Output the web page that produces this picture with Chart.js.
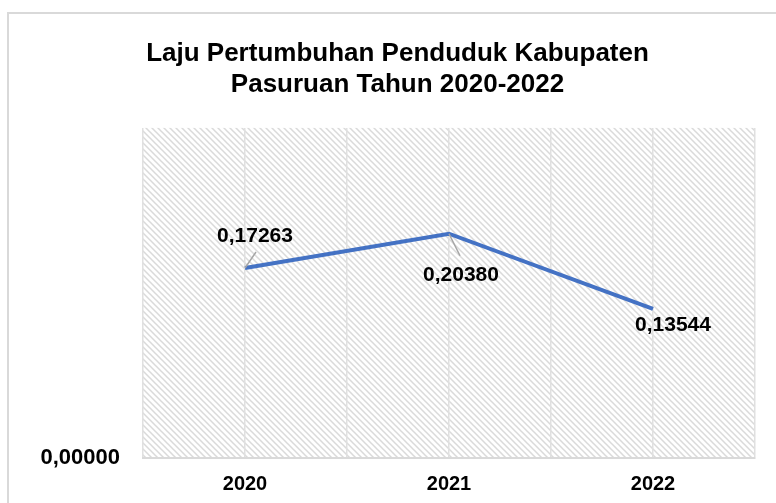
<!DOCTYPE html>
<html>
<head>
<meta charset="utf-8">
<script src="https://cdn.jsdelivr.net/npm/chart.js@4/dist/chart.umd.min.js"></script>
<style>
    html, body { margin: 0; padding: 0; background: #fff; }
    #wrap { width: 776px; height: 503px; }
</style>
</head>
<body>
<div id="wrap"><canvas id="growthChart" width="776" height="503"></canvas></div>
<script>
// data
const years = ['2020', '2021', '2022'];
const growthRate = [0.17263, 0.20380, 0.13544];
const yTickLabels = ['0,00000'];

// label placement relative to each point (px), and leader line ends
const labelOffsets = [[10, -32], [12, 41], [20, 16]];
const leaderEnds = [[11, -16], [11, 22], null];

const fmt = v => v.toFixed(5).replace('.', ',');

function makeHatch() {
    const c = document.createElement('canvas');
    c.width = 6;
    c.height = 6;
    const g = c.getContext('2d');
    g.fillStyle = '#ffffff';
    g.fillRect(0, 0, 6, 6);
    g.strokeStyle = '#dadada';
    g.lineWidth = 1.5;
    g.beginPath();
    g.moveTo(-1, -1); g.lineTo(7, 7);
    g.moveTo(-1, 5); g.lineTo(1, 7);
    g.moveTo(5, -1); g.lineTo(7, 1);
    g.stroke();
    return g.createPattern(c, 'repeat');
}

// frame, hatched plot background and data labels
const decorPlugin = {
    id: 'decor',
    beforeDraw(chart) {
        const { ctx, chartArea: a } = chart;
        ctx.save();
        ctx.strokeStyle = '#d9d9d9';
        ctx.lineWidth = 2;
        ctx.beginPath();
        ctx.moveTo(8, 503);
        ctx.lineTo(8, 13);
        ctx.lineTo(776, 13);
        ctx.stroke();
        ctx.fillStyle = makeHatch();
        ctx.fillRect(a.left, a.top, a.right - a.left, a.bottom - a.top);
        ctx.restore();
    },
    afterDatasetsDraw(chart) {
        const { ctx } = chart;
        const meta = chart.getDatasetMeta(0);
        ctx.save();
        meta.data.forEach((pt, i) => {
            const lead = leaderEnds[i];
            if (lead) {
                ctx.strokeStyle = '#a6a6a6';
                ctx.lineWidth = 1.5;
                ctx.beginPath();
                ctx.moveTo(pt.x, pt.y);
                ctx.lineTo(pt.x + lead[0], pt.y + lead[1]);
                ctx.stroke();
            }
            const off = labelOffsets[i];
            ctx.fillStyle = '#000';
            ctx.font = 'bold 21px "Liberation Sans", Arial, sans-serif';
            ctx.textAlign = 'center';
            ctx.textBaseline = 'middle';
            ctx.fillText(fmt(growthRate[i]), pt.x + off[0], pt.y + off[1]);
        });
        ctx.restore();
    }
};

const ctx = document.getElementById('growthChart');
new Chart(ctx, {
    type: 'line',
    data: {
        datasets: [{
            data: growthRate.map((v, i) => ({ x: i, y: v })),
            borderColor: '#4472C4',
            borderWidth: 4,
            pointRadius: 0,
            fill: false,
            tension: 0
        }]
    },
    options: {
        responsive: false,
        animation: false,
        layout: { padding: { left: 40, right: 21, top: 0, bottom: 0 } },
        plugins: {
            legend: { display: false },
            tooltip: { enabled: false },
            title: {
                display: true,
                text: ['Laju Pertumbuhan Penduduk Kabupaten', 'Pasuruan Tahun 2020-2022'],
                color: '#000',
                font: { family: '"Liberation Sans", Arial, sans-serif', size: 26, weight: 'bold', lineHeight: 1.19 },
                padding: { top: 38.5, bottom: 27.5 }
            }
        },
        scales: {
            x: {
                type: 'linear',
                min: -0.5,
                max: 2.5,
                afterFit: s => { s.height = 45; },
                ticks: {
                    stepSize: 0.5,
                    autoSkip: false,
                    maxRotation: 0,
                    padding: 14,
                    color: '#000',
                    font: { family: '"Liberation Sans", Arial, sans-serif', size: 20, weight: 'bold' },
                    callback: v => Number.isInteger(v) ? years[v] : ''
                },
                grid: { color: '#e0e0e0', lineWidth: 1.5, drawTicks: false },
                border: { display: true, color: '#d9d9d9', width: 2 }
            },
            y: {
                min: 0,
                max: 0.3,
                afterFit: s => { s.width = 103; },
                ticks: {
                    stepSize: 0.3,
                    padding: 15,
                    color: '#000',
                    font: { family: '"Liberation Sans", Arial, sans-serif', size: 22, weight: 'bold' },
                    callback: v => v === 0 ? yTickLabels[0] : ''
                },
                grid: { display: false },
                border: { display: false }
            }
        }
    },
    plugins: [decorPlugin]
});
</script>
</body>
</html>
